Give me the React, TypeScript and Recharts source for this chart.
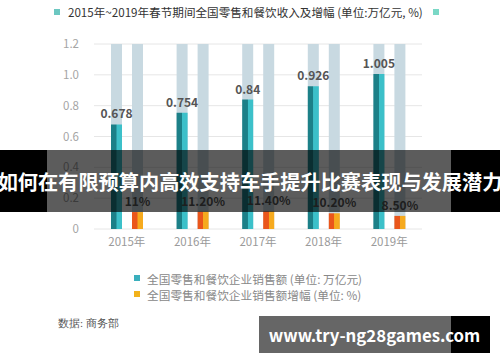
import { BarChart, Bar, XAxis, YAxis, CartesianGrid, LabelList } from "recharts";

const years = ["2015年", "2016年", "2017年", "2018年", "2019年"];
const sales = [0.678, 0.754, 0.84, 0.926, 1.005];
const growth = [11, 11.2, 11.4, 10.2, 8.5];
const growthLabels = ["11%", "11.20%", "11.40%", "10.20%", "8.50%"];
const yTicks = [0, 0.2, 0.4, 0.6, 0.8, 1.0, 1.2];

const title = "2015年~2019年春节期间全国零售和餐饮收入及增幅 (单位:万亿元, %)";
const legendItems = [
  { name: "全国零售和餐饮企业销售额 (单位: 万亿元)", color: "#3aafbd" },
  { name: "全国零售和餐饮企业销售额增幅 (单位: %)", color: "#f2b21c" },
];
const banner = "如何在有限预算内高效支持车手提升比赛表现与发展潜力";
const watermark = "www.try-ng28games.com";
const source = "数据: 商务部";

const data = years.map((y, i) => ({
  year: y,
  sales: sales[i],
  growth: growth[i] / 100,
  growthLabel: growthLabels[i],
}));

const sans = "'Noto Sans CJK SC', 'Noto Sans', sans-serif";
const bgBar = { fill: "#c8d9e1" };

export default function App() {
  return (
    <div
      style={{
        position: "absolute",
        left: 0,
        top: 0,
        width: 500,
        height: 362,
        background: "#fff",
        fontFamily: sans,
        overflow: "hidden",
      }}
    >
      <div style={{ position: "absolute", left: 54, top: 9, width: 6, height: 6, background: "#6cc7c1" }} />
      <div style={{ position: "absolute", left: 433, top: 9, width: 6, height: 6, background: "#7ad8c6" }} />
      <div
        style={{
          position: "absolute",
          left: 68,
          top: 4,
          fontSize: 11.6,
          color: "#333",
          whiteSpace: "nowrap",
          lineHeight: "17px",
        }}
      >
        {title}
      </div>

      <div style={{ position: "absolute", left: 0, top: 0 }}>
        <BarChart
          width={500}
          height={362}
          data={data}
          margin={{ top: 44, right: 78, bottom: 103, left: 54 }}
          barSize={11}
          barGap={10}
        >
          <defs>
            <linearGradient id="tealFill" x1="0" y1="0" x2="1" y2="0">
              <stop offset="0" stopColor="#1c8088" />
              <stop offset="0.48" stopColor="#1c8088" />
              <stop offset="0.52" stopColor="#3cc0c9" />
              <stop offset="1" stopColor="#3cc0c9" />
            </linearGradient>
            <linearGradient id="orangeFill" x1="0" y1="0" x2="1" y2="0">
              <stop offset="0" stopColor="#ea561b" />
              <stop offset="0.48" stopColor="#ea561b" />
              <stop offset="0.52" stopColor="#f6aa1e" />
              <stop offset="1" stopColor="#f6aa1e" />
            </linearGradient>
          </defs>
          <CartesianGrid vertical={false} stroke="#e6e6e6" />
          <XAxis
            dataKey="year"
            axisLine={false}
            tickLine={false}
            tickMargin={3}
            tick={{ fontSize: 11.5, fill: "#9a9a9a" }}
          />
          <YAxis
            width={40}
            domain={[0, 1.2]}
            ticks={yTicks}
            axisLine={false}
            tickLine={false}
            tickMargin={9}
            tickFormatter={(v: number) => (v === 0 ? "0" : v.toFixed(1))}
            tick={{ fontSize: 11.5, fill: "#a5a5a5" }}
          />
          <Bar dataKey="sales" fill="url(#tealFill)" background={bgBar} isAnimationActive={false}>
            <LabelList
              dataKey="sales"
              position="top"
              offset={6}
              style={{ fontSize: 12, fontWeight: 700, fill: "#555" }}
            />
          </Bar>
          <Bar dataKey="growth" fill="url(#orangeFill)" background={bgBar} isAnimationActive={false}>
            <LabelList
              dataKey="growthLabel"
              position="top"
              offset={6}
              style={{ fontSize: 12, fontWeight: 700, fill: "#555" }}
            />
          </Bar>
        </BarChart>
      </div>

      <div style={{ position: "absolute", left: 134, top: 270 }}>
        {legendItems.map((it) => (
          <div
            key={it.name}
            style={{ display: "flex", alignItems: "center", height: 16, fontSize: 11.7, color: "#888" }}
          >
            <span style={{ display: "inline-block", width: 6, height: 6, background: it.color, marginRight: 7 }} />
            <span style={{ whiteSpace: "nowrap" }}>{it.name}</span>
          </div>
        ))}
      </div>

      <div
        style={{
          position: "absolute",
          left: 58,
          top: 316,
          fontSize: 11,
          color: "#555",
          fontFamily: "serif",
          whiteSpace: "nowrap",
        }}
      >
        {source}
      </div>

      <div style={{ position: "absolute", left: 0, top: 150, width: 47, height: 62, background: "#000" }} />
      <div style={{ position: "absolute", left: 47, top: 150, width: 404, height: 62, background: "rgba(0,0,0,0.64)" }} />
      <div style={{ position: "absolute", left: 451, top: 150, width: 49, height: 62, background: "#000" }} />
      <div
        style={{
          position: "absolute",
          left: 0,
          top: 150,
          width: 500,
          height: 62,
          display: "flex",
          alignItems: "center",
          justifyContent: "center",
          color: "#fff",
          fontSize: 20.2,
          fontWeight: 700,
          whiteSpace: "nowrap",
        }}
      >
        {banner}
      </div>

      <div style={{ position: "absolute", left: 259, top: 316, width: 192, height: 37, background: "#666" }} />
      <div style={{ position: "absolute", left: 451, top: 316, width: 39, height: 37, background: "#000" }} />
      <div
        style={{
          position: "absolute",
          left: 259,
          top: 316,
          width: 231,
          height: 37,
          display: "flex",
          alignItems: "center",
          justifyContent: "center",
          color: "#fff",
          fontSize: 16.8,
          fontWeight: 700,
          whiteSpace: "nowrap",
        }}
      >
        {watermark}
      </div>
    </div>
  );
}
